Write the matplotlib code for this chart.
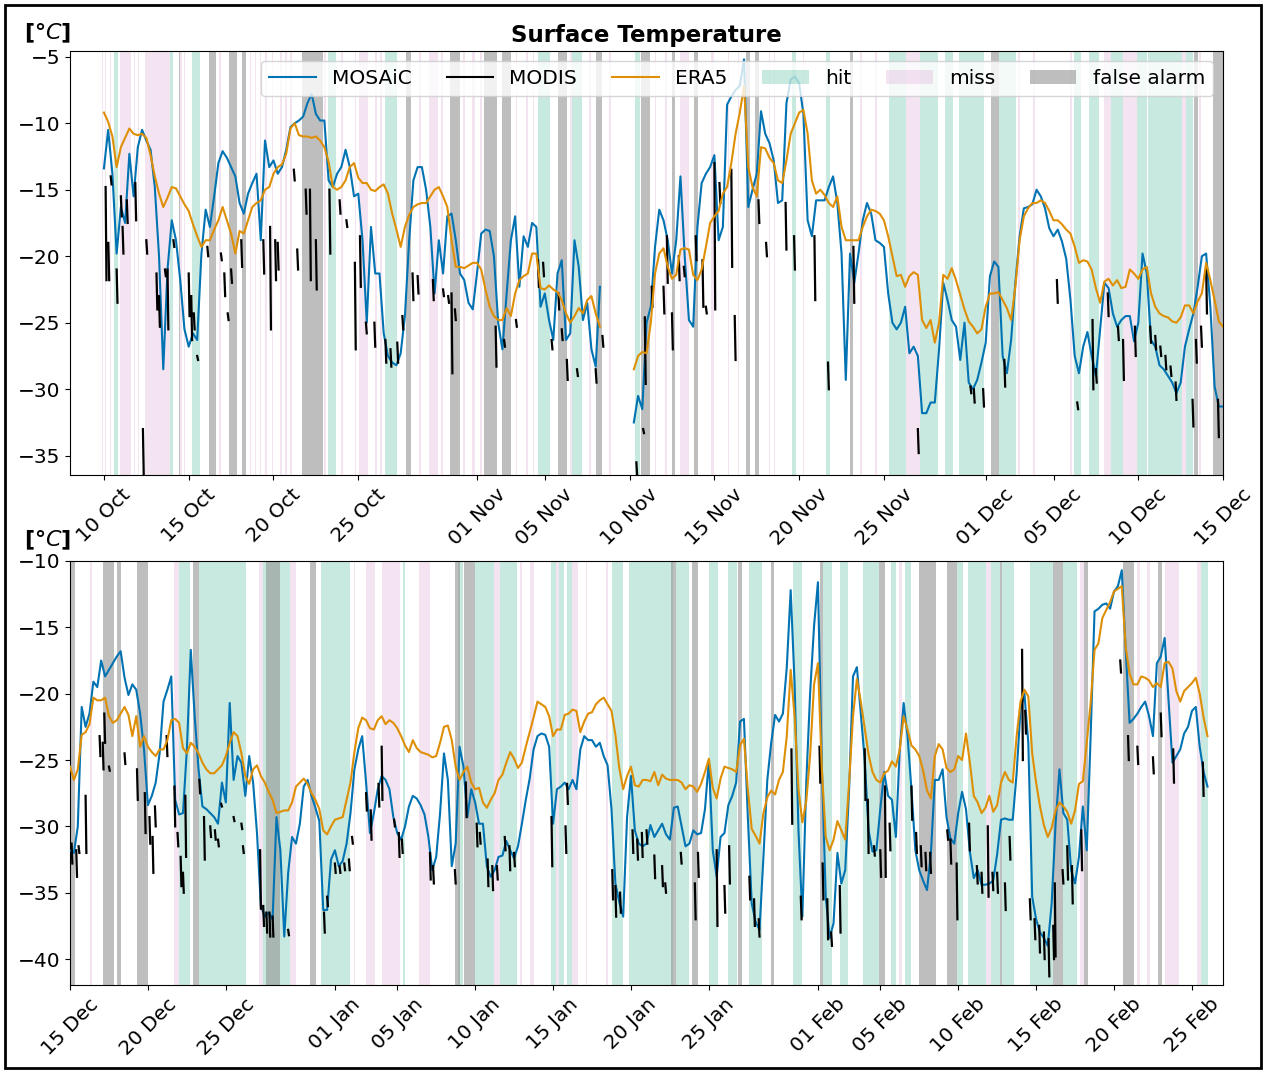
import numpy as np
import matplotlib
matplotlib.use("Agg")
import matplotlib.pyplot as plt
import matplotlib.dates as mdates
from matplotlib.lines import Line2D
from matplotlib.patches import Patch, Rectangle

nan = np.nan

#
# Data, 6-hourly, one row per day
#
top_start = "2019-10-10"
bottom_start = "2019-12-15"

mosaic_top = [
    -13.4, -10.5, -13.8, -19.8,  # Oct 10
    -16.3, -17.5, -12.3, -15.5,
    -11.8, -10.5, -11.3, -12.0,
    -14.8, -20.0, -28.5, -21.0,
    -17.3, -18.8, -21.8, -25.5,
    -26.8, -25.8, -26.3, -19.8,  # Oct 15
    -16.5, -17.8, -15.5, -13.0,
    -12.1, -12.6, -13.3, -14.0,
    -16.0, -16.8, -15.3, -14.5,
    -13.8, -18.8, -11.3, -13.3,
    -12.8, -13.8, -13.3, -12.0,  # Oct 20
    -10.3, -10.0, -9.8, -9.5,
    -8.5, -7.8, -9.3, -9.8,
    -9.8, -14.3, -14.8, -13.8,
    -13.3, -12.0, -13.3, -15.5,
    -15.3, -18.8, -25.0, -17.8,  # Oct 25
    -21.3, -21.3, -25.8, -27.5,
    -28.0, -28.2, -27.3, -24.5,
    -18.8, -14.3, -13.3, -13.3,
    -15.0, -17.8, -22.8, -18.8,
    -21.3, -17.0, -16.8, -18.8,  # Oct 30
    -21.3, -21.8, -23.5, -24.0,
    -21.3, -18.3, -18.0, -18.1,  # Nov 1
    -20.0, -25.0, -27.0, -22.8,
    -18.8, -17.0, -22.3, -18.5,
    -19.3, -17.5, -17.8, -23.8,
    -22.8, -24.8, -26.3, -21.3,  # Nov 5
    -20.3, -26.3, -25.8, -18.8,
    -20.8, -24.8, -23.5, -27.0,
    -28.3, -22.3, nan, nan,
    nan, nan, nan, nan,
    nan, -32.5, -30.5, -31.5,  # Nov 10
    -25.0, -23.8, -19.3, -16.5,
    -17.3, -18.8, -21.3, -18.8,
    -14.0, -20.0, -24.8, -25.3,
    -17.8, -14.5, -13.8, -13.3,
    -12.4, -18.8, -17.8, -8.6,  # Nov 15
    -8.0, -7.5, -7.2, -5.2,
    -16.3, -15.0, -13.8, -9.1,
    -10.8, -11.5, -12.8, -16.0,
    -15.8, -8.5, -6.7, -6.5,
    -7.0, -9.3, -17.3, -18.5,  # Nov 20
    -15.8, -15.8, -15.8, -14.8,
    -14.0, -16.0, -19.8, -29.3,
    -19.8, -22.0, -19.8, -17.3,
    -16.0, -16.8, -18.8, -19.0,
    -19.3, -22.8, -25.0, -25.5,  # Nov 25
    -25.0, -23.8, -27.3, -26.8,
    -27.5, -31.8, -31.8, -31.0,
    -31.0, -27.0, -22.0, -23.3,
    -24.8, -25.3, -27.8, -25.0,
    -29.5, -30.0, -29.3, -28.0,  # Nov 30
    -26.5, -21.5, -20.4, -20.8,  # Dec 1
    -27.5, -28.8, -26.3, -22.0,
    -18.5, -16.4, -16.3, -16.1,
    -15.0, -15.5, -16.4, -17.9,
    -18.5, -18.0, -18.9, -20.2,  # Dec 5
    -23.3, -27.5, -28.8, -26.8,
    -25.7, -27.5, -29.0, -25.5,
    -22.0, -22.4, -24.3, -25.3,
    -24.8, -24.5, -24.5, -26.4,
    -25.0, -19.8, -21.3, -26.3,  # Dec 10
    -26.8, -28.2, -28.5, -29.0,
    -29.5, -30.3, -29.5, -26.8,
    -25.5, -24.3, -22.3, -20.0,
    -19.8, -23.8, -29.8, -31.3,
    -31.3,
]

era5_top = [
    -9.2, -9.9, -11.0, -13.3,  # Oct 10
    -11.8, -11.1, -10.4, -10.8,
    -10.9, -10.8, -11.1, -12.4,
    -14.0, -15.3, -16.3, -15.6,
    -14.8, -14.9, -15.5, -16.1,
    -16.6, -17.6, -18.5, -19.3,  # Oct 15
    -18.8, -18.8, -18.0, -17.3,
    -16.3, -17.3, -18.3, -19.8,
    -18.1, -18.3, -17.3, -16.3,
    -16.0, -15.8, -15.0, -14.8,
    -13.8, -13.3, -13.1, -12.3,  # Oct 20
    -10.4, -10.0, -10.9, -11.0,
    -11.0, -11.1, -11.0, -11.3,
    -11.8, -12.9, -14.8, -15.0,
    -14.8, -14.3, -13.3, -13.0,
    -14.1, -14.5, -14.5, -15.0,  # Oct 25
    -15.1, -14.8, -14.6, -15.3,
    -16.8, -18.0, -19.3, -17.8,
    -16.9, -16.3, -16.1, -16.0,
    -16.0, -15.5, -15.0, -14.8,
    -15.5, -16.3, -18.8, -20.8,  # Oct 30
    -20.8, -20.9, -20.7, -20.5,
    -20.5, -21.0, -22.5, -23.8,  # Nov 1
    -24.5, -24.8, -24.8, -23.9,
    -24.5, -22.8, -21.8, -21.5,
    -21.3, -19.8, -19.8, -22.4,
    -22.5, -22.2, -22.5, -22.7,  # Nov 5
    -23.3, -24.3, -25.0, -24.5,
    -23.9, -24.3, -23.3, -23.0,
    -24.3, -25.3, nan, nan,
    nan, nan, nan, nan,
    nan, -28.5, -27.5, -27.2,  # Nov 10
    -27.3, -25.0, -21.3, -19.8,
    -19.4, -20.8, -21.7, -21.4,
    -19.5, -19.4, -19.5, -21.4,
    -21.8, -21.0, -19.3, -17.5,
    -17.0, -16.6, -15.3, -14.8,  # Nov 15
    -13.0, -10.8, -9.2, -7.2,
    -13.3, -14.8, -15.5, -11.8,
    -11.9, -12.6, -13.0, -14.3,
    -14.5, -12.8, -10.8, -10.0,
    -9.2, -9.0, -10.8, -14.3,  # Nov 20
    -15.3, -15.0, -15.4, -16.0,
    -16.3, -15.5, -17.8, -18.8,
    -18.8, -18.8, -18.8, -17.8,
    -17.0, -16.5, -16.6, -16.8,
    -17.3, -18.5, -20.0, -21.5,  # Nov 25
    -21.4, -22.3, -21.5, -21.2,
    -21.4, -24.8, -25.4, -24.8,
    -26.5, -25.0, -21.4, -21.7,
    -20.9, -21.8, -22.9, -24.0,
    -24.9, -25.3, -25.8, -25.5,  # Nov 30
    -23.8, -22.8, -22.8, -22.7,  # Dec 1
    -23.3, -23.9, -24.8, -22.3,
    -18.8, -17.0, -16.4, -16.0,
    -16.0, -15.8, -16.0, -16.6,
    -17.3, -17.3, -17.6, -18.0,  # Dec 5
    -18.3, -19.3, -20.5, -20.3,
    -20.4, -21.0, -22.4, -23.5,
    -21.9, -21.7, -22.2, -21.8,
    -22.4, -22.3, -21.0, -21.3,
    -21.7, -21.0, -20.8, -22.8,  # Dec 10
    -23.8, -24.3, -24.5, -24.6,
    -24.9, -25.0, -24.6, -23.7,
    -23.7, -24.3, -23.4, -22.8,
    -20.5, -21.8, -23.3, -24.9,
    -25.3,
]

mosaic_bottom = [
    -31.8, -32.0, -30.0, -21.0,  # Dec 15
    -22.5, -21.5, -19.1, -19.5,
    -17.5, -18.7, -18.2, -17.7,
    -17.2, -16.8, -18.8, -20.1,
    -19.3, -19.7, -21.5, -24.2,
    -28.4, -27.7, -26.7, -24.5,  # Dec 20
    -20.6, -19.7, -18.7, -28.0,
    -29.1, -29.0, -24.2, -16.7,
    -21.7, -25.7, -28.5, -28.7,
    -29.0, -29.3, -29.8, -26.7,
    -28.2, -20.7, -26.5, -24.7,  # Dec 25
    -25.2, -27.7, -24.7, -26.7,
    -30.5, -36.0, -36.8, -36.5,
    -37.0, -29.3, -31.8, -38.3,
    -33.5, -30.8, -31.3, -29.8,
    -27.0, -26.5, -27.7, -28.6,  # Dec 30
    -29.6, -36.3, -36.3, -32.5,
    -31.8, -33.0, -32.6, -31.3,  # Jan 1
    -29.0, -25.7, -24.2, -23.2,
    -26.7, -30.5, -29.0, -27.2,
    -26.2, -26.5, -27.2, -29.3,
    -30.5, -31.0, -30.0, -28.5,  # Jan 5
    -27.7, -27.9, -28.4, -29.1,
    -30.8, -33.3, -32.3, -29.0,
    -24.5, -26.5, -33.0, -31.3,
    -24.0, -25.5, -29.3, -27.2,
    -28.2, -29.8, -29.8, -33.0,  # Jan 10
    -33.8, -33.3, -32.3, -32.2,
    -31.1, -31.8, -32.4, -31.5,
    -29.8, -28.0, -26.4, -24.2,
    -23.2, -23.0, -23.1, -24.0,
    -29.8, -27.2, -27.0, -26.7,  # Jan 15
    -27.2, -26.5, -27.2, -24.2,
    -23.2, -23.5, -23.5, -24.0,
    -23.7, -24.7, -25.4, -28.7,
    -34.3, -35.7, -36.8, -29.3,
    -26.2, -30.3, -31.3, -31.5,  # Jan 20
    -31.3, -29.9, -30.8, -30.3,
    -29.8, -30.6, -31.0, -28.6,
    -28.5, -30.0, -31.5, -31.3,
    -30.3, -30.6, -30.5, -28.7,
    -25.0, -31.8, -33.8, -30.8,  # Jan 25
    -30.5, -28.4, -27.7, -26.7,
    -22.1, -21.9, -29.3, -35.8,
    -37.2, -37.8, -32.3, -26.5,
    -23.7, -21.6, -22.1, -21.5,
    -18.0, -12.2, -19.2, -30.3,  # Jan 30
    -36.8, -26.7, -19.9, -14.9,
    -11.6, -25.5, -35.3, -38.4,  # Feb 1
    -37.3, -32.0, -34.3, -33.3,
    -27.2, -18.7, -18.0, -21.5,
    -25.0, -30.3, -31.9, -31.8,
    -28.7, -25.9, -27.7, -28.0,  # Feb 5
    -30.8, -24.2, -20.7, -23.2,
    -27.2, -31.8, -33.3, -34.1,
    -34.8, -32.0, -26.5, -26.5,
    -25.7, -29.3, -30.9, -31.3,
    -29.0, -27.4, -28.7, -31.9,  # Feb 10
    -33.9, -33.3, -34.4, -34.4,
    -34.3, -34.1, -32.1, -29.5,
    -29.4, -29.5, -29.5, -26.0,
    -21.2, -20.0, -23.7, -35.3,
    -37.0, -38.0, -38.4, -39.0,  # Feb 15
    -35.8, -29.8, -25.7, -29.0,
    -29.5, -33.3, -34.3, -32.3,
    -28.5, -31.8, -23.2, -13.8,
    -13.6, -13.3, -13.2, -13.6,
    -12.3, -11.9, -10.7, -16.7,  # Feb 20
    -22.2, -21.9, -21.5, -21.0,
    -20.6, -21.7, -23.2, -17.7,
    -17.2, -15.8, -20.5, -25.2,
    -24.7, -24.2, -23.0, -22.5,
    -21.3, -21.0, -24.0, -25.9,  # Feb 25
    -27.0,
]

era5_bottom = [
    -25.5, -26.5, -25.7, -23.1,  # Dec 15
    -22.9, -22.3, -20.3, -20.5,
    -20.5, -20.3, -21.7, -22.2,
    -22.0, -21.5, -21.0, -21.6,
    -23.2, -21.7, -24.0, -23.2,
    -24.0, -24.4, -24.7, -24.2,  # Dec 20
    -24.2, -23.5, -22.0, -21.9,
    -22.2, -24.1, -24.5, -23.7,
    -24.0, -24.5, -25.2, -25.7,
    -26.0, -26.0, -25.7, -25.4,
    -24.7, -23.7, -22.9, -23.2,  # Dec 25
    -24.5, -26.2, -26.8, -25.7,
    -25.4, -26.2, -26.7, -27.4,
    -28.0, -29.0, -28.9, -28.8,
    -28.8, -28.2, -27.0, -26.7,
    -26.4, -26.8, -27.5, -28.0,  # Dec 30
    -28.7, -30.3, -30.6, -30.0,
    -29.5, -29.4, -29.3, -28.0,  # Jan 1
    -26.7, -24.4, -22.6, -21.8,
    -22.0, -22.6, -22.7, -22.0,
    -21.7, -22.3, -22.0, -22.2,
    -22.6, -23.2, -23.9, -24.4,  # Jan 5
    -23.5, -24.1, -24.4, -24.5,
    -24.6, -24.8, -24.7, -23.7,
    -22.5, -22.4, -23.5, -25.5,
    -26.5, -25.9, -25.5, -26.7,
    -27.2, -27.1, -28.2, -28.6,  # Jan 10
    -28.0, -27.5, -26.5, -26.1,
    -25.2, -24.4, -24.9, -25.6,
    -25.2, -24.0, -22.9, -21.8,
    -20.6, -20.8, -21.0, -21.7,
    -23.2, -22.7, -22.7, -21.6,  # Jan 15
    -21.5, -21.2, -21.3, -22.9,
    -22.1, -21.5, -21.4, -20.8,
    -20.5, -20.3, -20.8, -21.3,
    -23.1, -25.6, -27.2, -26.2,
    -25.5, -26.9, -27.0, -26.5,  # Jan 20
    -26.5, -26.6, -25.9, -26.9,
    -26.1, -26.4, -26.5, -26.5,
    -26.5, -26.7, -27.2, -26.9,
    -27.0, -27.4, -26.8, -25.9,
    -24.9, -27.1, -27.9, -26.4,  # Jan 25
    -25.5, -25.6, -25.7, -25.9,
    -23.9, -23.4, -27.2, -30.2,
    -30.7, -31.3, -29.0, -27.8,
    -27.3, -27.6, -26.5, -25.9,
    -23.2, -18.2, -21.7, -27.2,  # Jan 30
    -29.7, -28.1, -24.6, -19.3,
    -17.7, -25.7, -30.8, -31.8,  # Feb 1
    -31.0, -29.6, -30.3, -31.0,
    -26.7, -21.7, -18.9, -20.6,
    -22.6, -24.6, -25.9, -26.5,
    -26.7, -26.0, -25.8, -25.1,  # Feb 5
    -25.5, -24.2, -21.7, -22.7,
    -23.9, -24.2, -24.7, -25.8,
    -27.3, -27.9, -24.7, -23.8,
    -24.2, -25.6, -25.9, -25.7,
    -24.7, -25.0, -23.0, -25.2,  # Feb 10
    -27.7, -28.2, -29.0, -28.6,
    -27.7, -28.9, -28.4, -26.7,
    -25.9, -26.5, -26.7, -23.2,
    -20.6, -19.7, -20.2, -24.5,
    -26.7, -28.5, -29.9, -30.8,  # Feb 15
    -30.1, -28.8, -28.2, -28.5,
    -28.9, -29.8, -28.8, -26.8,
    -26.6, -23.7, -20.7, -16.7,
    -16.2, -14.3, -13.7, -13.1,
    -12.3, -12.1, -11.9, -16.5,  # Feb 20
    -18.5, -19.3, -19.3, -18.7,
    -18.8, -19.0, -19.5, -19.2,
    -19.5, -17.7, -17.6, -18.1,
    -19.8, -20.6, -19.8, -19.5,
    -19.2, -18.8, -20.0, -21.8,  # Feb 25
    -23.2,
]

# MODIS retrievals: short strokes (day offset, upper value, lower value)
modis_top_day = [0.1, 0.26, 0.4, 0.75, 1.0, 1.1, 1.35, 1.85, 2.3, 2.5, 3.1, 3.25, 3.6, 3.75,
                 4.1, 5.0, 5.15, 5.3, 5.5, 6.1, 6.9, 7.1, 7.3, 7.5, 8.1, 9.4, 9.8, 10.1,
                 10.25, 11.2, 11.4, 11.9, 12.15, 12.5, 13.3, 13.9, 14.3, 14.8, 15.1, 15.45,
                 15.95, 16.6, 16.9, 17.3, 17.6, 18.2, 18.5, 19.4, 20.0, 20.3, 20.5, 20.7,
                 23.1, 23.6, 24.3, 25.6, 25.9, 26.4, 26.8, 27.0, 27.3, 27.9, 29.0, 29.4,
                 31.4, 31.8, 31.9, 32.3, 33.0, 33.2, 33.5, 33.9, 34.2, 34.9, 35.3, 35.5,
                 36.0, 36.3, 37.0, 37.2, 38.6, 39.05, 40.2, 40.7, 41.9, 42.7, 44.2, 48.0,
                 51.1, 51.3, 51.85, 53.1, 56.2, 57.4, 58.3, 58.5, 59.2, 59.8, 60.1, 60.8,
                 61.7, 62.0, 62.3, 62.6, 62.9, 63.2, 64.2, 64.4, 64.7, 65.0, 65.7]
modis_top_hi = [-14.8, -19.0, -14.0, -21.0, -15.5, -17.8, -15.8, -14.5, -33.0, -18.8, -21.3,
                -23.0, -21.0, -21.0, -18.8, -21.3, -23.0, -24.3, -27.5, -19.3, -19.8, -21.3,
                -24.3, -21.0, -18.8, -18.8, -17.8, -18.8, -19.0, -13.5, -19.5, -15.0, -15.0,
                -18.8, -15.0, -15.8, -17.3, -20.5, -18.5, -25.0, -25.0, -26.3, -27.0, -26.5,
                -24.5, -21.3, -21.5, -21.8, -22.5, -23.0, -22.8, -24.0, -25.3, -26.3, -24.8,
                -20.3, -20.5, -26.3, -22.8, -25.5, -27.8, -28.5, -28.5, -26.0, -35.5, -33.0,
                -24.6, -22.3, -22.3, -18.5, -24.3, -20.0, -20.8, -18.5, -20.3, -23.8, -13.0,
                -14.5, -13.5, -24.5, -15.8, -19.0, -16.0, -18.5, -18.5, -28.0, -19.3, -33.0,
                -29.8, -30.0, -30.0, -27.8, -21.8, -31.0, -24.8, -28.5, -22.8, -25.3, -26.3,
                -25.3, -25.3, -26.0, -26.8, -27.5, -28.3, -29.5, -30.8, -26.3, -25.3, -20.8,
                -30.8]
modis_top_lo = [-21.8, -21.8, -14.6, -23.5, -17.0, -19.8, -17.5, -17.3, -36.6, -19.8, -24.0,
                -25.3, -21.5, -25.5, -19.3, -24.5, -26.3, -25.5, -27.8, -20.0, -20.3, -23.0,
                -24.8, -22.0, -20.8, -21.3, -25.5, -21.8, -21.0, -14.3, -21.0, -16.8, -21.8,
                -22.5, -19.8, -16.8, -17.8, -27.0, -22.3, -25.8, -26.8, -28.0, -28.3, -28.0,
                -25.5, -23.3, -22.8, -23.3, -23.0, -23.5, -28.8, -24.8, -28.3, -26.8, -25.3,
                -22.3, -21.5, -27.0, -24.0, -26.3, -29.3, -29.0, -29.5, -26.8, -36.6, -33.3,
                -29.6, -23.8, -24.3, -22.0, -27.0, -21.8, -21.5, -20.3, -23.8, -24.3, -24.0,
                -16.0, -20.8, -27.8, -17.5, -20.0, -19.5, -21.0, -23.3, -30.0, -23.5, -34.8,
                -30.3, -31.0, -31.3, -29.8, -23.5, -31.5, -30.0, -29.5, -24.5, -26.3, -29.3,
                -27.5, -26.5, -27.0, -27.5, -28.5, -29.0, -30.8, -32.8, -28.0, -26.8, -24.3,
                -33.6]

modis_bottom_day = [0.1, 0.4, 0.55, 1.0, 1.9, 2.1, 2.2, 2.5, 3.5, 4.3, 4.8, 5.1, 5.3, 5.45,
                    6.2, 6.7, 6.9, 7.1, 7.25, 7.4, 8.3, 8.6, 9.0, 9.3, 9.5, 9.7, 10.5, 11.0,
                    11.1, 12.2, 12.4, 12.6, 12.8, 13.0, 14.0, 16.3, 16.5, 17.0, 17.3, 17.6,
                    17.9, 18.1, 19.0, 19.3, 19.8, 20.0, 20.8, 21.1, 21.3, 23.1, 23.3, 24.7,
                    25.4, 26.1, 26.3, 26.8, 27.1, 27.4, 27.9, 28.2, 28.5, 30.9, 31.8, 31.9,
                    34.8, 35.0, 35.3, 36.1, 36.4, 36.7, 37.0, 37.5, 38.0, 38.2, 39.2, 40.1,
                    40.3, 41.5, 42.0, 42.3, 43.6, 43.9, 44.2, 46.3, 46.9, 48.1, 48.3, 48.6,
                    48.85, 49.4, 51.0, 51.2, 51.6, 52.0, 52.3, 52.6, 54.0, 54.3, 54.6, 54.9,
                    55.2, 56.3, 56.5, 56.9, 57.7, 58.2, 58.5, 58.9, 59.2, 59.5, 60.0, 60.3,
                    61.1, 61.3, 61.6, 61.9, 62.2, 62.5, 62.8, 63.1, 63.2, 63.7, 64.0, 64.3,
                    64.9, 67.4, 67.9, 68.5, 69.5, 70.0, 70.8, 72.7]
modis_bottom_hi = [-31.3, -31.8, -31.5, -27.7, -23.2, -23.7, -21.5, -25.5, -24.5, -25.7, -27.5,
                   -29.3, -30.8, -28.5, -23.2, -27.0, -30.5, -32.3, -33.5, -27.7, -26.5, -29.3,
                   -30.0, -30.3, -31.0, -28.3, -29.3, -29.8, -31.5, -31.8, -36.0, -36.5, -36.5,
                   -36.8, -37.8, -36.5, -35.3, -32.8, -33.0, -32.8, -32.5, -30.8, -27.5, -28.8,
                   -26.8, -24.0, -29.5, -30.5, -31.0, -32.0, -33.0, -33.3, -26.7, -29.8, -30.5,
                   -32.5, -33.0, -33.0, -30.8, -31.5, -32.0, -29.3, -30.0, -26.8, -33.3, -34.5,
                   -35.0, -30.3, -31.0, -30.5, -30.3, -32.2, -33.0, -34.3, -32.0, -34.3, -32.0,
                   -31.8, -34.5, -31.5, -33.8, -35.5, -37.0, -24.2, -35.3, -24.0, -32.8, -35.5,
                   -38.0, -34.5, -24.2, -28.0, -31.5, -31.8, -27.0, -29.8, -27.0, -30.5, -31.5,
                   -32.0, -32.0, -30.3, -31.0, -32.8, -29.8, -33.0, -33.5, -30.0, -33.5, -33.5,
                   -34.3, -30.8, -16.7, -21.3, -35.5, -37.0, -37.5, -38.0, -38.5, -37.5, -34.3,
                   -33.3, -31.5, -33.0, -30.3, -17.5, -23.2, -24.0, -24.8, -21.5, -24.2, -25.2]
modis_bottom_lo = [-32.8, -33.8, -32.0, -32.0, -24.7, -25.7, -23.7, -25.8, -25.3, -28.0, -30.5,
                   -31.3, -33.5, -30.0, -24.7, -30.0, -31.5, -34.5, -35.0, -32.3, -27.5, -32.5,
                   -30.8, -31.0, -31.5, -28.5, -29.6, -30.2, -32.0, -36.2, -37.5, -38.0, -38.3,
                   -38.3, -38.2, -38.0, -36.0, -33.5, -33.5, -33.3, -33.3, -31.3, -28.8, -31.0,
                   -28.5, -28.0, -30.0, -32.3, -32.0, -34.0, -34.3, -34.3, -29.3, -31.5, -31.3,
                   -34.5, -34.8, -34.0, -31.8, -33.3, -33.0, -33.0, -32.0, -28.3, -35.5, -36.8,
                   -36.5, -32.0, -32.5, -32.3, -31.3, -33.9, -34.5, -35.0, -32.8, -37.0, -33.8,
                   -37.5, -36.5, -34.3, -35.5, -37.5, -38.3, -29.8, -37.0, -26.7, -35.5, -38.5,
                   -39.0, -38.0, -28.0, -32.0, -32.2, -33.8, -33.8, -31.8, -29.5, -32.0, -33.0,
                   -33.3, -33.5, -31.0, -32.8, -37.0, -31.8, -34.3, -35.0, -35.3, -34.8, -35.0,
                   -36.3, -32.5, -25.0, -23.0, -37.0, -38.5, -39.5, -40.0, -41.3, -40.0, -39.8,
                   -34.3, -34.0, -35.8, -33.3, -18.4, -25.0, -25.3, -26.0, -23.2, -26.7, -27.7]

# detection classes (day offset start, end)
hit_top = [(0.6, 0.85), (3.9, 4.1), (5.2, 5.65), (13.2, 13.7), (16.6, 17.3), (25.6, 26.3),
           (27.6, 28.2), (31.3, 31.6), (40.6, 40.8), (42.6, 42.8), (46.3, 47.3), (48.1, 49.2),
           (49.6, 50.1), (50.4, 51.9), (52.8, 53.8), (57.2, 57.6), (58.1, 58.7), (59.4, 60.1),
           (60.9, 61.5), (61.6, 63.6), (63.8, 64.2)]
miss_top = [(-0.1, -0.05), (0.06, 0.14), (0.35, 0.43), (0.95, 1.6), (1.75, 1.83), (2.0, 2.08),
            (2.4, 3.9), (4.5, 4.6), (4.7, 4.78), (6.8, 6.88), (8.6, 8.68), (8.9, 8.98),
            (9.2, 9.28), (9.5, 9.6), (9.9, 10.0), (10.4, 10.48), (10.7, 10.78), (11.0, 11.1),
            (13.0, 13.08), (14.0, 14.1), (14.8, 14.88), (15.05, 15.55), (16.0, 16.08),
            (16.3, 16.38), (18.6, 18.68), (19.2, 19.7), (19.9, 19.98), (21.2, 21.3),
            (21.7, 21.9), (22.2, 22.28), (24.3, 24.38), (24.9, 25.0), (25.3, 25.38),
            (27.5, 27.58), (28.6, 28.7), (29.8, 29.9), (32.5, 32.58), (33.1, 33.18),
            (34.0, 34.5), (35.8, 36.0), (36.8, 36.88), (37.4, 37.48), (39.2, 39.28),
            (39.5, 39.6), (41.2, 41.28), (44.6, 44.68), (45.5, 45.58), (47.3, 48.1),
            (53.9, 54.0), (54.8, 54.9), (57.0, 57.08), (59.0, 59.4), (60.1, 60.9),
            (63.6, 63.8), (64.6, 64.68)]
fa_top = [(4.4, 4.5), (6.2, 6.6), (7.4, 7.85), (8.15, 8.4), (11.7, 12.9), (17.8, 18.1),
          (20.4, 21.0), (22.4, 23.2), (23.5, 24.0), (26.8, 27.3), (29.0, 29.4), (31.7, 32.2),
          (33.5, 33.7), (34.8, 35.05), (37.85, 38.1), (38.4, 38.65), (44.0, 44.2), (52.3, 52.8),
          (64.3, 64.5), (65.4, 66.0)]

hit_bottom = [(7.0, 7.7), (8.3, 11.3), (12.4, 14.1), (16.1, 18.0), (21.4, 21.5), (24.9, 25.2),
              (26.0, 27.2), (27.6, 28.7), (30.9, 31.2), (31.4, 31.7), (31.9, 32.2), (34.8, 35.5),
              (35.9, 38.7), (38.9, 39.7), (41.0, 41.6), (42.2, 42.8), (43.6, 44.4), (46.4, 47.0),
              (48.3, 48.9), (49.4, 49.9), (50.9, 51.9), (52.7, 53.0), (53.6, 54.0), (56.9, 57.3),
              (57.6, 58.8), (59.1, 59.7), (59.8, 60.6), (61.6, 63.1), (63.7, 64.6), (72.6, 73.0)]
miss_bottom = [(1.3, 1.4), (6.7, 7.0), (12.1, 12.4), (14.1, 14.5), (18.2, 18.3), (19.0, 19.6),
               (20.0, 21.15), (22.4, 23.1), (27.2, 27.6), (28.9, 29.0), (29.5, 29.8), (31.2, 31.4),
               (32.2, 32.6), (33.1, 33.2), (34.4, 34.5), (53.2, 53.4), (58.8, 59.1), (64.8, 65.1),
               (68.5, 68.7), (69.1, 69.3), (70.3, 71.2), (72.3, 72.6)]
fa_bottom = [(0.0, 0.3), (2.1, 2.8), (3.0, 3.3), (4.3, 5.0), (7.9, 8.3), (12.6, 13.5),
             (15.4, 15.8), (24.7, 25.0), (25.3, 26.0), (38.6, 38.9), (39.9, 40.3), (42.9, 43.1),
             (45.0, 45.2), (48.1, 48.3), (51.9, 52.3), (54.5, 55.6), (56.3, 56.9), (59.7, 59.8),
             (63.1, 63.7), (65.1, 65.3), (67.6, 68.3), (69.8, 70.1)]

BLUE = "#0173B2"
ORANGE = "#DE8F05"
HIT_C = "#029E73"
MISS_C = "#CC78BC"
FA_C = "#949494"
HIT_A, MISS_A, FA_A = 0.22, 0.2, 0.6

plt.rcParams["font.size"] = 14.5


def draw_panel(ax, start, mosaic, era5, m_day, m_hi, m_lo, hit, miss, fa, xlim, ylim, yticks):
    base = mdates.date2num(np.datetime64(start))

    #
    # shaded detection classes
    #
    for spans, color, alpha in ((hit, HIT_C, HIT_A), (miss, MISS_C, MISS_A), (fa, FA_C, FA_A)):
        for a, b in spans:
            ax.axvspan(base + a, base + b, color=color, alpha=alpha, lw=0, zorder=0)

    t = base + np.arange(len(mosaic)) * 0.25
    ax.plot(t, mosaic, color=BLUE, lw=1.5, zorder=3)

    # MODIS strokes separated by nan
    mx, my = [], []
    for d, hi, lo in zip(m_day, m_hi, m_lo):
        mx += [base + d, base + d + 0.05, nan]
        my += [hi, lo, nan]
    ax.plot(mx, my, color="black", lw=1.6, zorder=4)

    t = base + np.arange(len(era5)) * 0.25
    ax.plot(t, era5, color=ORANGE, lw=1.5, zorder=5)

    ax.set_xlim(base + xlim[0], base + xlim[1])
    ax.set_ylim(*ylim)
    ax.set_yticks(yticks)
    ax.xaxis.set_major_locator(mdates.DayLocator(bymonthday=[1, 5, 10, 15, 20, 25]))
    ax.xaxis.set_major_formatter(mdates.DateFormatter("%d %b"))
    for lab in ax.get_xticklabels():
        lab.set_rotation(45)
    ax.tick_params(labelsize=14.5)


fig = plt.figure(figsize=(12.66, 10.72), dpi=100)
ax1 = fig.add_axes([0.0553, 0.5569, 0.9108, 0.3958])
ax2 = fig.add_axes([0.0553, 0.0812, 0.9108, 0.3955])

draw_panel(ax1, top_start, mosaic_top, era5_top, modis_top_day, modis_top_hi, modis_top_lo,
           hit_top, miss_top, fa_top, (-2, 66), (-36.45, -4.55), [-35, -30, -25, -20, -15, -10, -5])
draw_panel(ax2, bottom_start, mosaic_bottom, era5_bottom, modis_bottom_day, modis_bottom_hi,
           modis_bottom_lo, hit_bottom, miss_bottom, fa_bottom, (0, 74), (-41.95, -10),
           [-40, -35, -30, -25, -20, -15, -10])

ax1.set_title("Surface Temperature", fontsize=16.5, fontweight="bold")
fig.text(0.019, 0.969, "[°$C$]", fontsize=16, fontweight="bold", va="center")
fig.text(0.019, 0.496, "[°$C$]", fontsize=16, fontweight="bold", va="center")

handles = [
    Line2D([], [], color=BLUE, lw=1.5),
    Line2D([], [], color="black", lw=1.5),
    Line2D([], [], color=ORANGE, lw=1.5),
    Patch(facecolor=HIT_C, alpha=HIT_A, lw=0),
    Patch(facecolor=MISS_C, alpha=MISS_A, lw=0),
    Patch(facecolor=FA_C, alpha=FA_A, lw=0),
]
ax1.legend(handles, ["MOSAiC", "MODIS", "ERA5", "hit", "miss", "false alarm"],
           loc="upper right", ncol=6, fontsize=14.5, handlelength=2.3, columnspacing=1.75)

# frame around the whole figure
fig.patches.append(Rectangle((0.004, 0.004), 0.992, 0.991, transform=fig.transFigure,
                             fill=False, edgecolor="black", lw=2))

fig.savefig("out.png", dpi=100)
